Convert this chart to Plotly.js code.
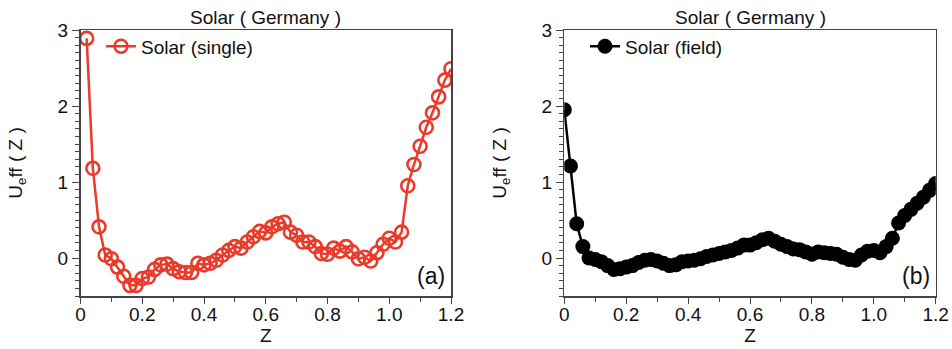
<!DOCTYPE html>
<html>
<head>
<meta charset="utf-8">
<script src="https://cdn.plot.ly/plotly-3.0.1.min.js"></script>
<style>html,body{margin:0;padding:0;background:#fff;}#chart{width:952px;height:349px;}</style>
</head>
<body>
<div id="chart"></div>
<script>
// Panel (a): Solar (single)
const zSingle = [0.02,0.04,0.06,0.08,0.10,0.12,0.14,0.16,0.18,0.20,0.22,0.24,0.26,0.28,0.30,0.32,0.34,0.36,0.38,0.40,0.42,0.44,0.46,0.48,0.50,0.52,0.54,0.56,0.58,0.60,0.62,0.64,0.66,0.68,0.70,0.72,0.74,0.76,0.78,0.80,0.82,0.84,0.86,0.88,0.90,0.92,0.94,0.96,0.98,1.00,1.02,1.04,1.06,1.08,1.10,1.12,1.14,1.16,1.18,1.20];
const uSingle = [2.89,1.18,0.41,0.04,-0.01,-0.12,-0.24,-0.36,-0.36,-0.27,-0.25,-0.15,-0.09,-0.08,-0.14,-0.18,-0.19,-0.19,-0.07,-0.09,-0.07,-0.03,0.04,0.10,0.15,0.13,0.21,0.28,0.35,0.33,0.41,0.45,0.47,0.34,0.30,0.21,0.21,0.15,0.06,0.05,0.13,0.09,0.15,0.08,-0.01,0.01,-0.04,0.07,0.18,0.26,0.21,0.34,0.95,1.23,1.47,1.72,1.91,2.12,2.34,2.49];

// Panel (b): Solar (field)
const zField = [0.00,0.02,0.04,0.06,0.08,0.10,0.12,0.14,0.16,0.18,0.20,0.22,0.24,0.26,0.28,0.30,0.32,0.34,0.36,0.38,0.40,0.42,0.44,0.46,0.48,0.50,0.52,0.54,0.56,0.58,0.60,0.62,0.64,0.66,0.68,0.70,0.72,0.74,0.76,0.78,0.80,0.82,0.84,0.86,0.88,0.90,0.92,0.94,0.96,0.98,1.00,1.02,1.04,1.06,1.08,1.10,1.12,1.14,1.16,1.18,1.20];
const uField = [1.95,1.21,0.45,0.15,0.00,-0.02,-0.05,-0.10,-0.15,-0.14,-0.12,-0.10,-0.06,-0.03,-0.02,-0.04,-0.07,-0.10,-0.09,-0.05,-0.04,-0.03,-0.01,0.02,0.04,0.06,0.08,0.10,0.13,0.17,0.17,0.20,0.24,0.26,0.22,0.18,0.15,0.12,0.11,0.08,0.05,0.08,0.07,0.06,0.05,0.01,-0.02,-0.03,0.04,0.09,0.10,0.07,0.15,0.26,0.46,0.56,0.64,0.72,0.80,0.89,0.98];

const xTicks = [0,0.2,0.4,0.6,0.8,1.0,1.2];
const xTickText = ['0','0.2','0.4','0.6','0.8','1.0','1.2'];
const yTicks = [0,1,2,3];
const panelTitle = 'Solar ( Germany )';
const nameSingle = 'Solar (single)';
const nameField = 'Solar (field)';

const red = '#ea3a2a';
const font = 'Liberation Sans, Arial, Helvetica, sans-serif';
const fs = 19;

const traces = [
  {x: zSingle, y: uSingle, type: 'scatter', mode: 'lines+markers', name: nameSingle,
   xaxis: 'x', yaxis: 'y', legend: 'legend',
   line: {color: red, width: 2.5},
   marker: {symbol: 'circle-open', size: 13, color: red, line: {width: 2.6, color: red}}},
  {x: zField, y: uField, type: 'scatter', mode: 'lines+markers', name: nameField,
   xaxis: 'x2', yaxis: 'y2', legend: 'legend2',
   line: {color: '#000', width: 2.5},
   marker: {symbol: 'circle', size: 15, color: '#000'}}
];

function xa(domain, anchor) {
  return {domain: domain, anchor: anchor, range: [0, 1.2], tickvals: xTicks, ticktext: xTickText,
    ticks: 'outside', ticklen: 6, tickwidth: 1, tickcolor: '#444', ticklabelstandoff: -5,
    minor: {dtick: 0.1, tick0: 0, ticks: 'outside', ticklen: 4, tickcolor: '#444'},
    showline: true, linecolor: '#444', linewidth: 1.5, mirror: true, showgrid: false, zeroline: false,
    tickfont: {size: fs, color: '#111', family: font},
    title: {text: 'Z', font: {size: fs, color: '#111', family: font}, standoff: 0}};
}
function ya(anchor) {
  return {domain: [0, 1], anchor: anchor, range: [-0.5, 3], tickvals: yTicks,
    ticks: 'outside', ticklen: 7, tickwidth: 1, tickcolor: '#444',
    minor: {dtick: 0.1, tick0: 0, ticks: 'outside', ticklen: 4, tickcolor: '#444'},
    showline: true, linecolor: '#444', linewidth: 1.5, mirror: true, showgrid: false, zeroline: false,
    tickfont: {size: fs, color: '#111', family: font},
    title: {text: 'U<sub>e</sub>ff ( Z )', font: {size: fs, color: '#111', family: font}, standoff: 30}};
}

const layout = {
  width: 952, height: 349,
  margin: {l: 0, r: 0, t: 30, b: 53},
  paper_bgcolor: '#fff', plot_bgcolor: '#fff',
  font: {family: font, color: '#111'},
  xaxis: xa([80.5/952, 451/952], 'y'),
  yaxis: ya('x'),
  xaxis2: xa([564.3/952, 935.7/952], 'y2'),
  yaxis2: ya('x2'),
  legend: {x: 101/952, y: 1.01, xanchor: 'left', yanchor: 'top', bgcolor: 'rgba(0,0,0,0)',
    font: {size: fs, family: font, color: '#111'}, itemwidth: 30},
  legend2: {x: 585/952, y: 1.01, xanchor: 'left', yanchor: 'top', bgcolor: 'rgba(0,0,0,0)',
    font: {size: fs, family: font, color: '#111'}, itemwidth: 30},
  showlegend: true,
  annotations: [
    {text: panelTitle, xref: 'x domain', yref: 'y domain', x: 0.5, y: 1, yanchor: 'bottom', yshift: 0,
     showarrow: false, font: {size: fs, family: font, color: '#111'}},
    {text: panelTitle, xref: 'x2 domain', yref: 'y2 domain', x: 0.5, y: 1, yanchor: 'bottom', yshift: 0,
     showarrow: false, font: {size: fs, family: font, color: '#111'}},
    {text: '(a)', xref: 'x domain', yref: 'y domain', x: 0.99, y: 0.02, xanchor: 'right', yanchor: 'bottom',
     showarrow: false, font: {size: 23, family: font, color: '#111'}},
    {text: '(b)', xref: 'x2 domain', yref: 'y2 domain', x: 0.99, y: 0.02, xanchor: 'right', yanchor: 'bottom',
     showarrow: false, font: {size: 23, family: font, color: '#111'}}
  ]
};

Plotly.newPlot('chart', traces, layout, {displayModeBar: false, staticPlot: true});
</script>
</body>
</html>
